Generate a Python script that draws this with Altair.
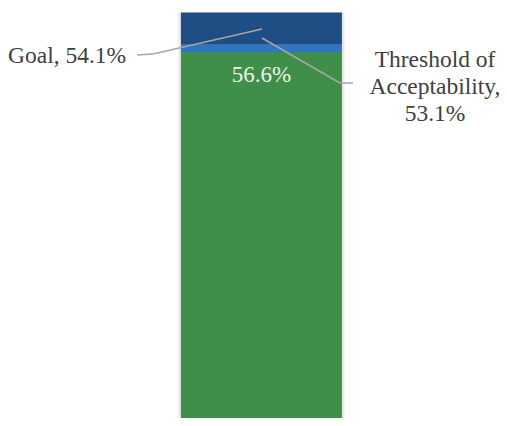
import altair as alt
import pandas as pd

# ---- data ----
category = "Measure"
segments = ["Result", "Threshold of Acceptability", "Goal"]
seg_values = [56.6, 1.1, 5.0]          # stacked bar segments (visual heights)
seg_colors = ["#3f8f4b", "#2e75c4", "#1f4e84"]
result_value = 56.6
goal_value = 54.1
threshold_value = 53.1

rows = []
base = 0.0
for s, v, c in zip(segments, seg_values, seg_colors):
    rows.append({"cat": category, "seg": s, "y0": base, "y1": base + v, "color": c})
    base += v
df = pd.DataFrame(rows)
df_label = pd.DataFrame([{"cat": category, "value": result_value, "label": f"{result_value}%"}])
df_total = pd.DataFrame([{"cat": category, "y0": 0.0, "y1": base}])

W, H = 491, 410
FONT = "Liberation Serif"
TXT = "#404040"
LINE = "#a6a6a6"

x_scale = alt.Scale(paddingInner=0.0242, paddingOuter=1, align=0.524)
y_scale = alt.Scale(domain=[0, 63.4], nice=False, zero=True)

shadow = alt.Chart(df_total).mark_bar(width=166, color="#7f7f7f", opacity=0.18).encode(
    x=alt.X("cat:N", scale=x_scale, axis=None),
    y=alt.Y("y0:Q", scale=y_scale, axis=None),
    y2="y1:Q",
)

bars = alt.Chart(df).mark_bar().encode(
    x=alt.X("cat:N", scale=x_scale, axis=None),
    y=alt.Y("y0:Q", scale=y_scale, axis=None),
    y2="y1:Q",
    color=alt.Color("color:N", scale=None),
)

label = alt.Chart(df_label).mark_text(
    font=FONT, fontSize=23, color="#eef3ea", baseline="alphabetic", align="center", dy=30
).encode(
    x=alt.X("cat:N", scale=x_scale, axis=None),
    y=alt.Y("value:Q", scale=y_scale, axis=None),
    text="label:N",
)

one = alt.Data(values=[{}])

def seg(x1, y1, x2, y2):
    return alt.Chart(one).mark_rule(color=LINE, strokeWidth=1.5).encode(
        x=alt.value(x1), y=alt.value(y1), x2=alt.value(x2), y2=alt.value(y2)
    )

goal_lines = seg(129, 47, 145, 46) + seg(145, 46, 254, 21)
thr_lines = seg(254, 30, 332, 75) + seg(332, 75, 345, 75)

goal_text = alt.Chart(one).mark_text(
    font=FONT, fontSize=23.5, color=TXT, align="left", baseline="alphabetic",
    text=f"Goal, {goal_value}%",
).encode(x=alt.value(0), y=alt.value(55))

thr_text = alt.Chart(one).mark_text(
    font=FONT, fontSize=23.5, color=TXT, align="center", baseline="alphabetic",
    lineBreak="\n", lineHeight=27,
    text=f"Threshold of\nAcceptability,\n{threshold_value}%",
).encode(x=alt.value(427), y=alt.value(59))

chart = alt.layer(
    shadow, bars, label, goal_lines, thr_lines, goal_text, thr_text
).properties(
    width=W, height=H, autosize=alt.AutoSizeParams(type="none"), padding=0,
    background="white",
).configure_view(stroke=None)

chart.save("out.html", embed_options={"renderer": "svg", "actions": False})
